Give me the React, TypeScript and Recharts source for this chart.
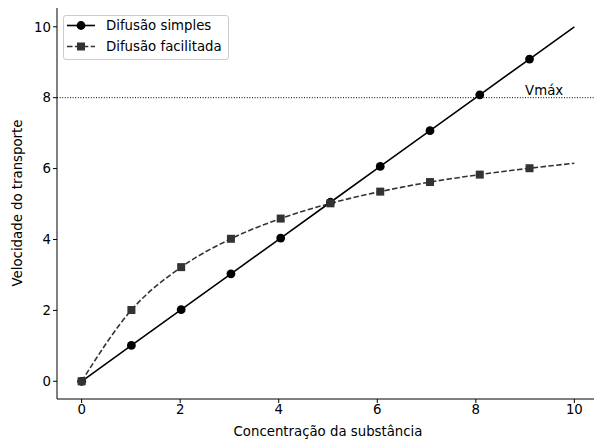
import { ComposedChart, Line, XAxis, YAxis, ReferenceLine, ReferenceDot } from "recharts"

// concentração (x) e velocidades
const concentracao = [0, 1.01, 2.02, 3.03, 4.04, 5.05, 6.06, 7.07, 8.08, 9.09, 10]
const difusaoSimples = [0, 1.01, 2.02, 3.03, 4.04, 5.05, 6.06, 7.07, 8.08, 9.09, 10]
const difusaoFacilitada = [0, 2.01, 3.22, 4.02, 4.59, 5.02, 5.35, 5.62, 5.83, 6.01, 6.15]
const xTicks = [0, 2, 4, 6, 8, 10]
const yTicks = [0, 2, 4, 6, 8, 10]
const vmax = 8

const chartData = concentracao.map((c, i) => ({
  x: c,
  simples: difusaoSimples[i],
  facilitada: difusaoFacilitada[i],
}))

const lastIndex = chartData.length - 1

const font = "'DejaVu Sans', sans-serif"
const fontSize = 13.3
const tickStyle = { fontSize, fill: "#000", fontFamily: font }

// marcadores em todos os pontos menos o último (a linha continua até 10)
const CircleDot = (props: any) => {
  const { cx, cy, index } = props
  if (index === lastIndex) return <g key={`c${index}`} />
  return <circle key={`c${index}`} cx={cx} cy={cy} r={4.4} fill="#000" />
}

const SquareDot = (props: any) => {
  const { cx, cy, index } = props
  if (index === lastIndex) return <g key={`s${index}`} />
  return <rect key={`s${index}`} x={cx - 4} y={cy - 4} width={8} height={8} fill="#333" />
}

const App = () => {
  return (
    <div style={{ position: "absolute", left: 0, top: 0, width: 594, height: 442, overflow: "hidden", background: "#fff" }}>
      <ComposedChart
        width={600}
        height={442}
        data={chartData}
        margin={{ top: 8, right: 1, left: 0, bottom: 0 }}
      >
        <XAxis
          dataKey="x"
          type="number"
          domain={[-0.5, 10.5]}
          ticks={xTicks}
          tick={tickStyle}
          tickSize={4}
          height={43}
          stroke="#000"
          tickLine={{ stroke: "#000" }}
          allowDataOverflow
        />
        <YAxis
          type="number"
          domain={[-0.5, 10.53]}
          ticks={yTicks}
          tick={tickStyle}
          tickSize={4}
          width={57}
          stroke="#000"
          tickLine={{ stroke: "#000" }}
          allowDataOverflow
        />
        <XAxis xAxisId="top" orientation="top" dataKey="x" type="number" domain={[-0.5, 10.5]} tick={false} tickLine={false} height={0} stroke="#000" />
        <ReferenceLine y={vmax} stroke="#000" strokeWidth={1} strokeDasharray="1 1.6" />
        <ReferenceDot
          x={9}
          y={vmax}
          r={0}
          fill="none"
          stroke="none"
          label={(p: any) => (
            <text x={p.viewBox.x} y={p.viewBox.y - 3} fontSize={fontSize} fontFamily={font} fill="#000">
              Vmáx
            </text>
          )}
        />
        <Line
          type="linear"
          dataKey="simples"
          stroke="#000"
          strokeWidth={1.6}
          dot={CircleDot}
          activeDot={false}
          isAnimationActive={false}
        />
        <Line
          type="monotone"
          dataKey="facilitada"
          stroke="#333"
          strokeWidth={1.6}
          strokeDasharray="5.5 2.4"
          dot={SquareDot}
          activeDot={false}
          isAnimationActive={false}
        />
      </ComposedChart>

      {/* legenda */}
      <div
        style={{
          position: "absolute",
          left: 63,
          top: 15,
          width: 166,
          height: 45,
          border: "1px solid #ccc",
          borderRadius: 3,
          background: "rgba(255,255,255,0.8)",
          fontFamily: font,
          fontSize,
          lineHeight: "16px",
          color: "#000",
          boxSizing: "border-box",
        }}
      >
        <svg width={32} height={44} style={{ position: "absolute", left: 3, top: 0 }}>
          <line x1={0} y1={9.5} x2={28} y2={9.5} stroke="#000" strokeWidth={1.6} />
          <circle cx={14} cy={9.5} r={4.4} fill="#000" />
          <line x1={0} y1={30.5} x2={28} y2={30.5} stroke="#333" strokeWidth={1.6} strokeDasharray="5.5 2.4" />
          <rect x={10} y={26.5} width={8} height={8} fill="#333" />
        </svg>
        <div style={{ position: "absolute", left: 42, top: 1.5, whiteSpace: "nowrap" }}>Difusão simples</div>
        <div style={{ position: "absolute", left: 42, top: 22.5, whiteSpace: "nowrap" }}>Difusão facilitada</div>
      </div>

      {/* títulos dos eixos */}
      <div
        style={{
          position: "absolute",
          left: 328,
          top: 424,
          transform: "translateX(-50%)",
          fontFamily: font,
          fontSize,
          whiteSpace: "nowrap",
        }}
      >
        Concentração da substância
      </div>
      <div
        style={{
          position: "absolute",
          left: 17,
          top: 203,
          transform: "translate(-50%, -50%) rotate(-90deg)",
          fontFamily: font,
          fontSize,
          whiteSpace: "nowrap",
        }}
      >
        Velocidade do transporte
      </div>
    </div>
  )
}

export default App
